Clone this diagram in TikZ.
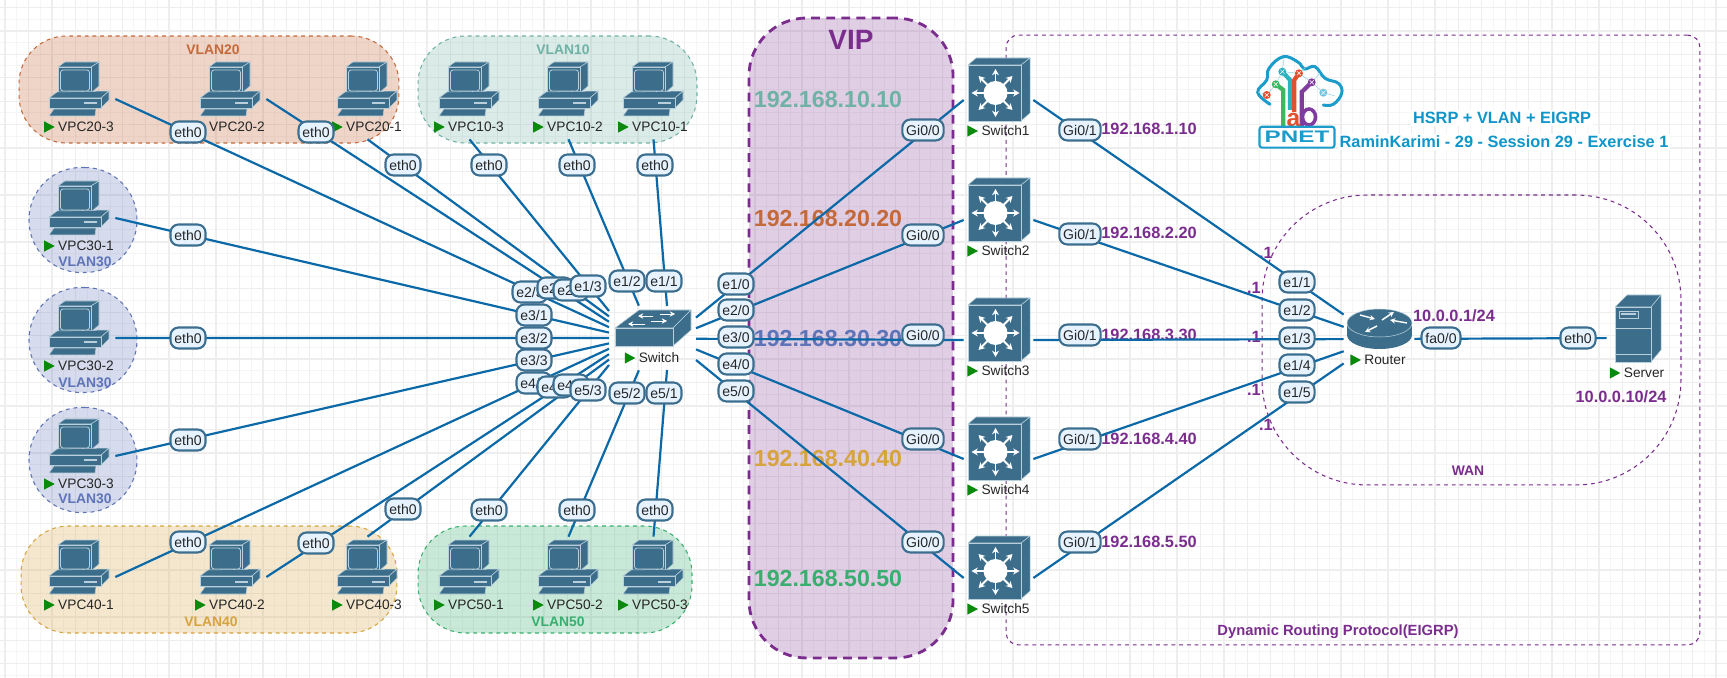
\documentclass[tikz,border=0pt]{standalone}
\usepackage{fontspec}
\setmainfont{Liberation Sans}
\usepackage{xcolor}
\usepackage{tikz}
\usetikzlibrary{arrows.meta,calc}
\definecolor{lnLink}{HTML}{0B69A8}
\definecolor{lnIcon}{HTML}{3C6E8C}
\definecolor{lnIconLight}{HTML}{B9CFDB}
\definecolor{lnPortFill}{HTML}{E6F3FF}
\definecolor{lnPortEdge}{HTML}{3C6E8F}
\definecolor{lnInk}{HTML}{262626}
\definecolor{lnPurple}{HTML}{7B2D8E}
\definecolor{lnTitle}{HTML}{1095C8}
\definecolor{lnGreen}{HTML}{0A8A0A}
\definecolor{lnGridA}{HTML}{EEEEEE}
\definecolor{lnGridB}{HTML}{F5F5F5}
\definecolor{lnTen}{HTML}{6FB1A5}
\definecolor{lnTwenty}{HTML}{C4693A}
\definecolor{lnThirty}{HTML}{5F74B8}
\definecolor{lnForty}{HTML}{D6A33C}
\definecolor{lnFifty}{HTML}{39AE6F}
\definecolor{lnLogo}{HTML}{1B9CCB}
\definecolor{lnLogoGreen}{HTML}{3DB860}
\definecolor{lnLogoRed}{HTML}{E0522F}
\definecolor{lnLogoTeal}{HTML}{2BB3BE}
\definecolor{lnLogoPurple}{HTML}{7F3C9E}
\newcommand{\runmark}{\tikz[x=1pt,y=1pt,baseline=0pt]\fill[lnGreen] (0,-.5)--(6,2.7)--(0,5.9)--cycle;\hspace{2pt}}
\tikzset{
  % Coloured dashed area
  zonebox/.style={rectangle,inner sep=0pt,outer sep=0pt,line width=.6pt,
    dash pattern=on 2.2pt off 2.2pt},
  % Invisible boxes that lines stop at
  vpcbox/.style={rectangle,inner sep=0pt,minimum width=1.42cm,minimum height=1.6cm},
  swbox/.style={rectangle,inner sep=0pt,minimum width=1.74cm,minimum height=1.28cm},
  l3box/.style={rectangle,inner sep=0pt,minimum width=1.38cm,minimum height=1.6cm},
  rtbox/.style={rectangle,inner sep=0pt,minimum width=1.4cm,minimum height=1.4cm},
  srvbox/.style={rectangle,inner sep=0pt,minimum width=1.2cm,minimum height=1.6cm},
  % Interface label on a link
  portbox/.style={rectangle,rounded corners=4.6pt,draw=lnPortEdge,line width=1.2pt,
    fill=lnPortFill,inner xsep=2.2pt,inner ysep=1pt,minimum height=.42cm,
    font=\fontsize{8}{9}\selectfont,text=lnInk},
  devlbl/.style={font=\fontsize{7.8}{9}\selectfont,text=lnInk,inner sep=0pt},
  iplbl/.style={font=\fontsize{9.3}{11}\selectfont\bfseries,text=lnPurple,inner sep=0pt},
  biglbl/.style={font=\fontsize{13.2}{15}\selectfont\bfseries,inner sep=0pt},
  zonelbl/.style={font=\fontsize{7.9}{9}\selectfont\bfseries,inner sep=0pt},
  titlelbl/.style={font=\fontsize{9.3}{11}\selectfont\bfseries,text=lnTitle,fill=white,inner sep=1pt},
  link/.style={draw=lnLink,line width=1.25pt},
  iconbody/.style={fill=lnIcon,draw=lnIconLight,line width=.3pt,line join=round},
  iconline/.style={draw=lnIconLight,line width=.45pt},
  iconarrow/.style={draw=white,line width=.8pt,-{Stealth[length=3pt,width=3pt]}},
  % Device drawings, from their top left corner
  vpcicon/.pic={
    \path[iconbody] (9,5)--(16,0)--(50,0)--(42,5)--cycle;
    \path[iconbody] (42,5)--(50,0)--(50,24)--(42,31)--cycle;
    \path[iconbody] (9,5) rectangle (42,33);
    \draw[iconline,rounded corners=1.5pt] (11.5,8) rectangle (40.5,29);
    \path[iconbody] (0,36)--(8,30)--(60,29)--(52,36)--cycle;
    \path[iconbody] (52,36)--(60,29)--(60,38)--(52,46)--cycle;
    \path[iconbody] (0,36) rectangle (52,46);
    \fill[lnIconLight] (35,40.5) rectangle (48,42.5);
    \path[iconbody] (5,47)--(47,47)--(46,54)--(0,54)--cycle;
  },
  swicon/.pic={
    \path[iconbody] (0,18)--(24,0)--(76,0)--(58,18)--cycle;
    \path[iconbody] (58,18)--(76,0)--(76,20)--(58,36)--cycle;
    \path[iconbody] (0,18) rectangle (58,36);
    \draw[iconarrow,line width=.55pt] (45,4)--(60,4);
    \draw[iconarrow,line width=.55pt] (38,6)--(23,6);
    \draw[iconarrow,line width=.55pt] (36,11)--(52,11);
    \draw[iconarrow,line width=.55pt] (30,14)--(13,14);
  },
  lthreeicon/.pic={
    \path[iconbody] (0,7)--(8,0)--(62,0)--(53,7)--cycle;
    \path[iconbody] (53,7)--(62,0)--(62,55)--(53,63)--cycle;
    \path[iconbody] (0,7) rectangle (53,63);
    \foreach \ang in {0,45,...,315}
      \draw[draw=white,line width=1.1pt,-{Stealth[length=3.6pt,width=4pt]}]
        (27.5,35)--++(\ang:24);
    \fill[white] (27.5,35) circle (12);
  },
  rticon/.pic={
    \fill[lnIcon] (32.5,27) ellipse [x radius=32.5,y radius=14];
    \fill[lnIcon] (0,15) rectangle (65,27);
    \path[iconbody] (32.5,15) ellipse [x radius=32.5,y radius=14];
    \draw[iconarrow] (13,7)--(28,11);
    \draw[iconarrow] (35,12)--(47,4);
    \draw[iconarrow] (60,15)--(43,12);
    \draw[iconarrow] (30,18)--(18,24);
  },
  srvicon/.pic={
    \path[iconbody] (0,12)--(12,0)--(46,0)--(36,12)--cycle;
    \path[iconbody] (36,12)--(46,0)--(46,55)--(36,67)--cycle;
    \path[iconbody] (0,12) rectangle (36,67);
    \draw[iconline] (4,16) rectangle (23,23);
    \fill[lnIconLight] (6,18.5) rectangle (21,20.5);
    \draw[iconline] (0,33)--(36,33);
    \draw[iconline] (0,59)--(36,59);
  },
}

\begin{document}
\begin{tikzpicture}[x=0.02cm,y=-0.02cm]
  \useasboundingbox (0,0) rectangle (1727,678);
  \fill[white] (0,0) rectangle (1727,678);

  % grid
  \foreach \gx in {16.72,40.16,...,1727}
    \draw[lnGridB,line width=.55pt] (\gx,0)--(\gx,678);
  \foreach \gy in {19,42.44,...,678}
    \draw[lnGridB,line width=.55pt] (0,\gy)--(1727,\gy);
  \foreach \gx in {5,28.44,...,1727}
    \draw[lnGridA,line width=.75pt] (\gx,0)--(\gx,678);
  \foreach \gy in {7.5,30.94,...,678}
    \draw[lnGridA,line width=.75pt] (0,\gy)--(1727,\gy);

  % areas
  \foreach \nm/\cc/\xx/\yy/\ww/\hh/\rr/\oo in {
    vl20/lnTwenty/209/89.5/7.6/2.14/.95/.28,
    vl10/lnTen/557.5/89.5/5.58/2.14/.95/.25,
    vl40/lnForty/209/579.5/7.52/2.14/.95/.25,
    vl50/lnFifty/555/579.5/5.48/2.14/.95/.27,
    vl31/lnThirty/83/220/2.16/2.1/1.04/.25,
    vl32/lnThirty/83/340/2.16/2.1/1.04/.25,
    vl33/lnThirty/83/460/2.16/2.1/1.04/.25}
    \node[zonebox,draw=\cc,fill=\cc,fill opacity=\oo,rounded corners=\rr cm,
      minimum width=\ww cm,minimum height=\hh cm] (\nm) at (\xx,\yy) {};
  \node[zonebox,draw=lnPurple,fill=lnPurple,fill opacity=.23,line width=1.6pt,
    dash pattern=on 5pt off 3.6pt,rounded corners=1.15cm,
    minimum width=4.08cm,minimum height=12.8cm] (vip) at (851,338) {};
  \node[zonebox,draw=lnPurple,rounded corners=.25cm,
    minimum width=13.88cm,minimum height=12.2cm] (eigrp) at (1353,340) {};
  \node[zonebox,draw=lnPurple,rounded corners=2.1cm,
    minimum width=8.38cm,minimum height=5.8cm] (wan) at (1471.5,340) {};

  % area labels
  \foreach \nm/\cc/\txt/\xx/\yy in {
    t20/lnTwenty/VLAN20/213/50, t10/lnTen/VLAN10/563/50,
    t31/lnThirty/VLAN30/85/262, t32/lnThirty/VLAN30/85/383, t33/lnThirty/VLAN30/85/499,
    t40/lnForty/VLAN40/211/622, t50/lnFifty/VLAN50/558/622}
    \node[zonelbl,text=\cc] (\nm) at (\xx,\yy) {\txt};
  \node[zonelbl,text=lnPurple] (twan) at (1468,471) {WAN};
  \node[zonelbl,text=lnPurple,font=\fontsize{8.4}{10}\selectfont\bfseries] (teigrp) at (1338,632) {Dynamic Routing Protocol(EIGRP)};
  \node[font=\fontsize{15.9}{18}\selectfont\bfseries,text=lnPurple,inner sep=0pt] (tvip) at (851,40) {VIP};
  \foreach \nm/\cc/\txt/\yy in {
    b10/lnTen/192.168.10.10/100, b20/lnTwenty/192.168.20.20/219,
    b30/lnThirty/192.168.30.30/339, b40/lnForty/192.168.40.40/459,
    b50/lnFifty/192.168.50.50/579}
    \node[biglbl,text=\cc] (\nm) at (828,\yy) {\txt};
  \foreach \nm/\txt/\yy in {
    g1/192.168.1.10/129, g2/192.168.2.20/233, g3/192.168.3.30/335,
    g4/192.168.4.40/439, g5/192.168.5.50/542}
    \node[iplbl,anchor=west] (\nm) at (1101,\yy) {\txt};
  \foreach \nm/\xx/\yy in {d1/1266/253, d2/1254/288, d3/1254/337, d4/1254/390, d5/1266/425}
    \node[iplbl] (\nm) at (\xx,\yy) {.1};
  \node[iplbl] (gwip) at (1454,316) {10.0.0.1/24};
  \node[iplbl] (srvip) at (1621,397) {10.0.0.10/24};

  % title and logo
  \node[titlelbl] (title) at (1502,118) {HSRP + VLAN + EIGRP};
  \node[titlelbl] (subtitle) at (1504,142) {RaminKarimi - 29 - Session 29 - Exercise 1};
  \draw[lnLogo,line width=1.7pt,line cap=round] plot[smooth,tension=.7] coordinates {
    (1270,104.3) (1257.7,92.3) (1266.7,80) (1269,68.3) (1283.3,56.7) (1298.3,62.3)
    (1304.3,69) (1315,66.7) (1325,78.3) (1338.3,83.3) (1341.7,93.3) (1333.3,104.3) (1323.3,105)};
  \draw[lnLogo!45,line width=.3pt] (1266.7,95)--(1275.7,84.3)--(1282.3,71.7)--(1299,73.3)
    --(1311.7,82.3)--(1323.3,92.7)--(1335,96);
  \draw[lnLogo!45,line width=.3pt] (1266.7,95)--(1258,92) (1282.3,71.7)--(1284,58)
    (1299,73.3)--(1305,68) (1311.7,82.3)--(1320,73);
  \draw[lnLogoGreen,line width=2.4pt] (1275.7,84.3)--(1283.3,90)--(1283.3,126.7);
  \draw[lnLogoTeal,line width=2.4pt] (1282.3,71.7)--(1290,80)--(1290,110);
  \draw[lnLogoRed,line width=2.4pt] (1299,73.3)--(1294.3,80)--(1294.3,112);
  \draw[lnLogoPurple,line width=2.4pt] (1311.7,82.3)--(1301.7,92)--(1301.7,126);
  \draw[lnLogoPurple,line width=2pt] (1309,117) ellipse [x radius=6.5,y radius=8];
  \node[font=\fontsize{14}{16}\selectfont\bfseries,text=lnLogoRed,inner sep=0pt] (loga) at (1293.5,120) {a};
  \foreach \cc/\xx/\yy in {lnLogoRed/1266.7/95, lnLogoGreen/1275.7/84.3, lnLogoTeal/1282.3/71.7,
    lnLogoRed/1299/73.3, lnLogoPurple/1311.7/82.3, lnLogo!60/1323.3/92.7}{
    \fill[\cc] (\xx,\yy) circle (4);
    \draw[white,line width=.3pt] (\xx-2,\yy-2)--(\xx+2,\yy+2) (\xx-2,\yy+2)--(\xx+2,\yy-2);
  }
  \node[rectangle,rounded corners=1.5pt,draw=lnLogo,line width=1.2pt,fill=white,inner sep=0pt,
    minimum width=1.5cm,minimum height=.42cm,text=lnLogo,
    font=\fontsize{9.5}{11}\selectfont\bfseries] (pnet) at (1297,137.2) {\scalebox{1.45}[1]{PNET}};

  % devices
  \foreach \nm/\lbl/\xx/\yy in {
    v203/VPC20-3/49/62, v202/VPC20-2/200/62, v201/VPC20-1/337/62,
    v103/VPC10-3/439/62, v102/VPC10-2/538/62, v101/VPC10-1/623/62,
    v301/VPC30-1/49/181, v302/VPC30-2/49/301, v303/VPC30-3/49/419,
    v401/VPC40-1/49/540, v402/VPC40-2/200/540, v403/VPC40-3/337/540,
    v501/VPC50-1/439/540, v502/VPC50-2/538/540, v503/VPC50-3/623/540}{
    \node[vpcbox] (\nm) at (\xx+30.5,\yy+37) {};
    \pic at (\xx,\yy) {vpcicon};
    \node[devlbl] (\nm-t) at (\xx+30,\yy+65) {\runmark\lbl};
  }
  \node[swbox] (sw) at (652.5,338) {};
  \pic at (615,310) {swicon};
  \node[devlbl] (sw-t) at (652,358) {\runmark Switch};
  \foreach \i in {1,...,11}
    \coordinate (swl\i) at (609,{305.6+5.4*\i});
  \foreach \i in {1,...,5}
    \coordinate (swr\i) at (696,{307+10.6*\i});
  \coordinate (swt) at (667,306);
  \coordinate (swb) at (667,370);
  \foreach \nm/\lbl/\yy in {s1/Switch1/58, s2/Switch2/178, s3/Switch3/298, s4/Switch4/417, s5/Switch5/536}{
    \node[l3box] (\nm) at (998.5,\yy+42) {};
    \pic at (968,\yy) {lthreeicon};
    \node[devlbl] (\nm-t) at (998.5,\yy+73) {\runmark\lbl};
  }
  \node[rtbox] (rt) at (1379,339) {};
  \pic at (1347,308) {rticon};
  \node[devlbl] (rt-t) at (1378,360) {\runmark Router};
  \node[srvbox] (srv) at (1637,338) {};
  \pic at (1615,295) {srvicon};
  \node[devlbl] (srv-t) at (1637,373) {\runmark Server};

  % links
  \foreach \aa/\bb in {
    v203.east/swl4, v202.east/swl3, v201.south/swl2, v103.south/swl1,
    v102.south/sw, v101.south/swt,
    v301.east/swl5, v302.east/swl6, v303.east/swl7,
    v401.east/swl8, v402.east/swl9, v403.north/swl10, v501.north/swl11,
    v502.north/sw, v503.north/swb,
    swr1/s1.west, swr2/s2.west, swr3/s3.west, swr4/s4.west, swr5/s5.west,
    s1.east/rt, s2.east/rt, s3.east/rt, s4.east/rt, s5.east/rt, rt/srv}
    \draw[link] (\aa)--(\bb);

  % interface labels
  \foreach \txt/\xx/\yy [count=\i] in {
    eth0/188/132, eth0/316/132, eth0/403/165, eth0/489/165, eth0/577/165, eth0/655/165,
    eth0/188/235, eth0/188/338, eth0/188/440, eth0/188/542, eth0/316/543, eth0/403/509,
    eth0/489/510, eth0/577/510, eth0/655/510,
    {e2/3}/530/292, {e2/2}/555/288, {e2/1}/571/290, {e1/3}/588/286, {e1/2}/627/281, {e1/1}/664/281,
    {e3/1}/534/315, {e3/2}/534/338, {e3/3}/534/360,
    {e4/1}/534/383, {e4/2}/555/387, {e4/3}/571/385, {e5/3}/588/390, {e5/2}/627/393, {e5/1}/664/393,
    {e1/0}/736/284, {e2/0}/736/310, {e3/0}/736/337, {e4/0}/736/364, {e5/0}/736/391,
    {Gi0/0}/923/130, {Gi0/0}/923/235, {Gi0/0}/923/335, {Gi0/0}/923/439, {Gi0/0}/923/542,
    {Gi0/1}/1080/130, {Gi0/1}/1080/234, {Gi0/1}/1080/335, {Gi0/1}/1080/439, {Gi0/1}/1080/542,
    {e1/1}/1297/282, {e1/2}/1297/310, {e1/3}/1297/338, {e1/4}/1297/365, {e1/5}/1297/392,
    {fa0/0}/1441/338, eth0/1578/338}
    \node[portbox] (pt\i) at (\xx,\yy) {\txt};
\end{tikzpicture}
\end{document}
